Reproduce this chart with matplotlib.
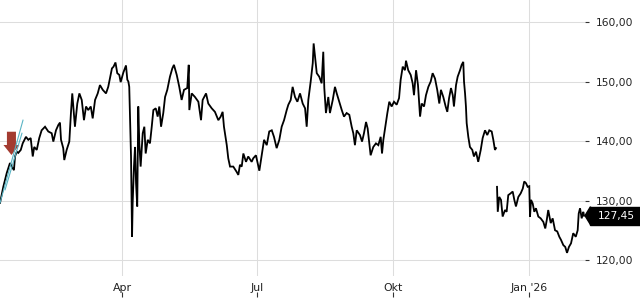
import matplotlib
matplotlib.use("Agg")
import matplotlib.pyplot as plt
import matplotlib.dates as mdates
from matplotlib.patches import Rectangle, Polygon, FancyArrow
from matplotlib.transforms import blended_transform_factory
import numpy as np
import pandas as pd

BASE = pd.Timestamp("2025-01-01")

# Price series (days since 2025-01-01, price). Two segments (data gap in December).
seg1_days = [7.6, 9.8, 12.1, 14.3, 15.5, 17.0, 17.7, 18.9, 19.9, 21.6, 22.9, 25.1, 26.7, 28.3, 29.7,
             30.7, 32.4, 34.1, 35.7, 38.0, 40.2, 42.5, 43.6, 45.4, 47.0, 48.1, 48.8, 50.3, 51.0, 52.6,
             54.4, 55.5, 56.4, 57.1, 58.2, 59.8, 61.2, 62.8, 64.3, 65.7, 67.2, 68.9, 70.2, 71.8, 73.6,
             75.1, 77.0, 79.2, 80.7, 81.9, 83.2, 84.3, 85.6, 86.8, 88.2, 89.1, 90.9, 92.7, 93.6, 94.3,
             94.9, 95.4, 96.1, 96.8, 97.2, 98.1, 98.8, 99.5, 100.3, 101.0, 101.7, 102.6, 104.0, 105.1,
             106.0, 107.4, 108.9, 110.1, 111.2, 112.8, 114.1, 115.2, 116.4, 117.9, 119.1, 120.6, 122.4,
             124.0, 125.1, 127.0, 128.7, 130.3, 131.9, 134.1, 135.1, 135.5, 137.1, 139.3, 141.6, 143.4,
             144.5, 146.8, 148.3, 150.6, 152.8, 155.1, 156.7, 158.0, 158.9, 159.6, 160.8, 161.8, 163.0,
             165.2, 167.5, 168.6, 169.7, 170.9, 172.0, 173.8, 175.3, 177.6, 178.7, 180.5, 182.8, 184.4,
             186.0, 187.8, 189.5, 191.2, 192.7, 194.5, 196.3, 197.9, 199.5, 201.3, 202.4, 204.0, 205.3,
             206.9, 208.5, 210.3, 212.1, 213.7, 214.8, 215.9, 217.5, 218.9, 219.5, 220.4, 221.6, 223.3,
             224.9, 226.0, 226.7, 227.8, 229.4, 230.5, 232.4, 233.9, 235.1, 236.8, 238.5, 240.0, 241.8,
             243.6, 245.2, 246.3, 247.4, 248.6, 250.8, 252.2, 253.5, 254.9, 256.0, 257.1, 258.0, 259.8,
             261.6, 263.2, 264.8, 265.7, 266.6, 267.9, 269.3, 270.6, 272.2, 273.8, 275.6, 277.2, 278.3,
             279.7, 281.2, 281.9, 283.4, 285.1, 286.4, 287.3, 288.7, 290.0, 291.4, 292.5, 294.1, 295.4,
             297.0, 298.6, 299.9, 301.5, 303.0, 304.4, 305.5, 307.1, 308.7, 309.8, 311.0, 312.3, 313.5,
             314.3, 315.7, 316.8, 318.4, 319.5, 320.6, 321.1, 321.8, 322.4, 322.9, 324.0, 325.1, 326.7,
             327.8, 329.2, 330.7, 332.4, 333.7, 335.3, 336.8, 338.2, 339.8, 340.9, 342.0, 342.7]
seg1_vals = [129.6, 132.3, 134.6, 136.3, 135.7, 135.1, 137.4, 138.2, 138.0, 138.5, 139.6, 140.7, 140.2, 140.5, 137.4,
             139.0, 138.5, 140.5, 141.8, 142.4, 141.6, 141.3, 139.9, 141.8, 142.7, 143.1, 140.2, 138.8, 136.8, 138.5,
             139.9, 144.7, 148.0, 145.8, 142.4, 146.3, 148.0, 146.9, 143.5, 145.8, 145.2, 145.8, 143.8, 146.9, 148.0,
             149.4, 148.6, 148.0, 149.1, 150.6, 152.2, 152.5, 153.2, 151.4, 151.1, 149.9, 151.5, 152.7, 150.3, 150.0,
             149.1, 144.1, 137.4, 123.9, 129.5, 135.7, 139.0, 132.9, 129.0, 145.8, 139.6, 135.7, 141.3, 142.4,
             137.9, 140.2, 139.6, 142.4, 145.2, 145.5, 144.1, 145.8, 142.4, 144.7, 147.4, 148.6, 150.8,
             152.2, 152.8, 151.1, 149.1, 146.9, 148.6, 148.9, 152.8, 145.2, 148.0, 147.4, 146.6, 143.5,
             146.9, 148.0, 146.3, 145.5, 144.9, 143.5, 144.1, 144.9, 142.4, 141.3, 139.3, 137.1, 135.7,
             135.7, 134.8, 134.3, 136.0, 135.7, 137.9, 136.5, 137.4, 136.5, 137.1, 137.6, 135.0, 137.6,
             140.2, 139.3, 141.6, 141.8, 140.7, 138.8, 140.2, 142.4, 143.5, 145.2, 146.1, 146.9, 149.1,
             147.4, 146.6, 148.0, 146.3, 145.5, 142.4, 146.9, 150.0, 153.1, 156.4, 154.2, 151.4, 150.8,
             149.7, 155.0, 148.9, 144.7, 147.4, 144.7, 146.9, 149.1, 148.0, 146.6, 145.2, 144.1, 144.7,
             144.4, 142.4, 141.3, 139.3, 141.8, 141.0, 139.9, 141.3, 143.2, 142.1, 139.6, 137.6, 139.0,
             139.6, 139.3, 140.7, 137.9, 140.2, 142.4, 144.7, 146.6, 145.8, 146.6, 146.1, 147.2, 150.3,
             152.5, 151.9, 153.5, 151.9, 151.1, 149.7, 147.7, 151.9, 149.4, 144.1, 146.3, 145.8, 147.7,
             149.1, 150.0, 151.4, 150.5, 148.6, 146.3, 148.6, 147.4, 145.8, 144.9, 147.2, 148.9, 147.7,
             145.8, 149.4, 150.8, 151.9, 152.8, 153.3, 150.0, 148.0, 145.8, 143.0, 140.7, 139.0, 138.5,
             137.4, 138.2, 136.5, 138.5, 140.5, 141.8, 141.0, 141.8, 141.6, 140.2, 138.5, 138.8]

seg2_days = [343.4, 343.9, 344.9, 346.1, 347.2, 348.8, 349.9, 351.0, 352.6, 354.0, 355.1, 356.2, 357.8,
             359.4, 360.8, 361.8, 363.0, 364.1, 365.2, 365.7, 366.4, 367.5, 368.6, 369.7, 371.3, 372.9,
             374.7, 376.0, 377.0, 378.0, 379.7, 381.0, 382.6, 384.1, 385.5, 386.6, 388.2, 389.5, 390.7,
             392.0, 393.4, 394.9, 396.6, 397.9, 398.6, 399.5, 400.6, 401.7, 402.2]
seg2_vals = [132.3, 128.1, 130.6, 130.1, 127.3, 128.4, 128.1, 130.9, 131.2, 131.5, 130.1, 129.0, 130.6,
             131.2, 132.0, 133.2, 132.9, 132.3, 132.4, 127.3, 130.1, 129.5, 128.1, 128.7, 127.3, 127.0,
             126.4, 125.3, 126.7, 128.4, 126.2, 127.0, 125.0, 124.8, 123.9, 123.4, 122.5, 122.2, 121.2,
             122.2, 122.8, 124.5, 123.9, 125.0, 127.8, 128.7, 127.0, 128.1, 127.45]

last_price = 127.45

# Trend channel lines and signal arrow
trend_a_days = [7.6, 23.1]
trend_a_vals = [129.6, 143.5]
trend_b_days = [11.0, 22.4]
trend_b_vals = [131.8, 141.3]
signal_day = 15.3
signal_top = 141.56
signal_tip = 137.65

y_ticks = [120, 130, 140, 150, 160]
x_tick_dates = ["2025-04-01", "2025-07-01", "2025-10-01", "2026-01-01"]
x_tick_labels = ["Apr", "Jul", "Okt", "Jan '26"]


def to_num(days):
    return mdates.date2num(BASE + pd.to_timedelta(np.asarray(days, dtype=float), unit="D"))


fig = plt.figure(figsize=(6.4, 3.0), dpi=100)
ax = fig.add_axes([0, 24 / 300, 585 / 640, 276 / 300])

ax.plot(to_num(seg1_days), seg1_vals, color="black", lw=1.3, zorder=3, solid_joinstyle="miter")
ax.plot(to_num(seg2_days), seg2_vals, color="black", lw=1.3, zorder=3, solid_joinstyle="miter")

ax.plot(to_num(trend_a_days), trend_a_vals, color="#5ab4c4", lw=0.8, zorder=4)
ax.plot(to_num(trend_b_days), trend_b_vals, color="#5ab4c4", lw=0.8, zorder=4)

sx = to_num([signal_day])[0]
ax.add_patch(FancyArrow(sx, signal_top, 0, -(signal_top - signal_tip), width=6.1, head_width=10.8,
                        head_length=1.68, length_includes_head=True, color="#a33b30", lw=0, zorder=2.5))

ax.set_xlim(to_num([7.57])[0], to_num([402.85])[0])
ax.set_ylim(117.31, 163.70)

for s in ax.spines.values():
    s.set_visible(False)

ax.yaxis.tick_right()
ax.set_yticks(y_ticks)
ax.set_yticklabels([f"{v:.2f}".replace(".", ",") for v in y_ticks])
ax.tick_params(axis="y", right=True, left=False, length=3.2, width=0.8, color="#333333",
               pad=4.8, labelsize=7.7, labelcolor="#222222")

xt = mdates.date2num(pd.to_datetime(x_tick_dates))
ax.set_xticks(xt)
ax.set_xticklabels(x_tick_labels)
ax.tick_params(axis="x", length=0, pad=5.0, labelsize=7.9, labelcolor="#222222")

ax.grid(True, color="#dddddd", lw=0.75)
ax.set_axisbelow(True)

sec = ax.secondary_xaxis(-16 / 276)
sec.set_xticks(xt)
sec.tick_params(axis="x", length=3.5, width=0.8, color="#333333", labelbottom=False)
sec.spines["bottom"].set_visible(False)

# Last price label
tr = blended_transform_factory(ax.transAxes, ax.transData)
hh = 9 / (276 / (163.70 - 117.31))
ax.add_patch(Rectangle((590 / 585, last_price - hh), 60 / 585, 2 * hh, transform=tr,
                       color="black", clip_on=False, zorder=5))
ax.add_patch(Polygon([(1.0, last_price), (590.5 / 585, last_price + hh), (590.5 / 585, last_price - hh)],
                     closed=True, transform=tr, color="black", clip_on=False, zorder=5))
ax.text(616 / 585, last_price, f"{last_price:.2f}".replace(".", ","), transform=tr, color="white",
        fontsize=7.7, ha="center", va="center", zorder=6)

fig.savefig("out.png", dpi=100)
